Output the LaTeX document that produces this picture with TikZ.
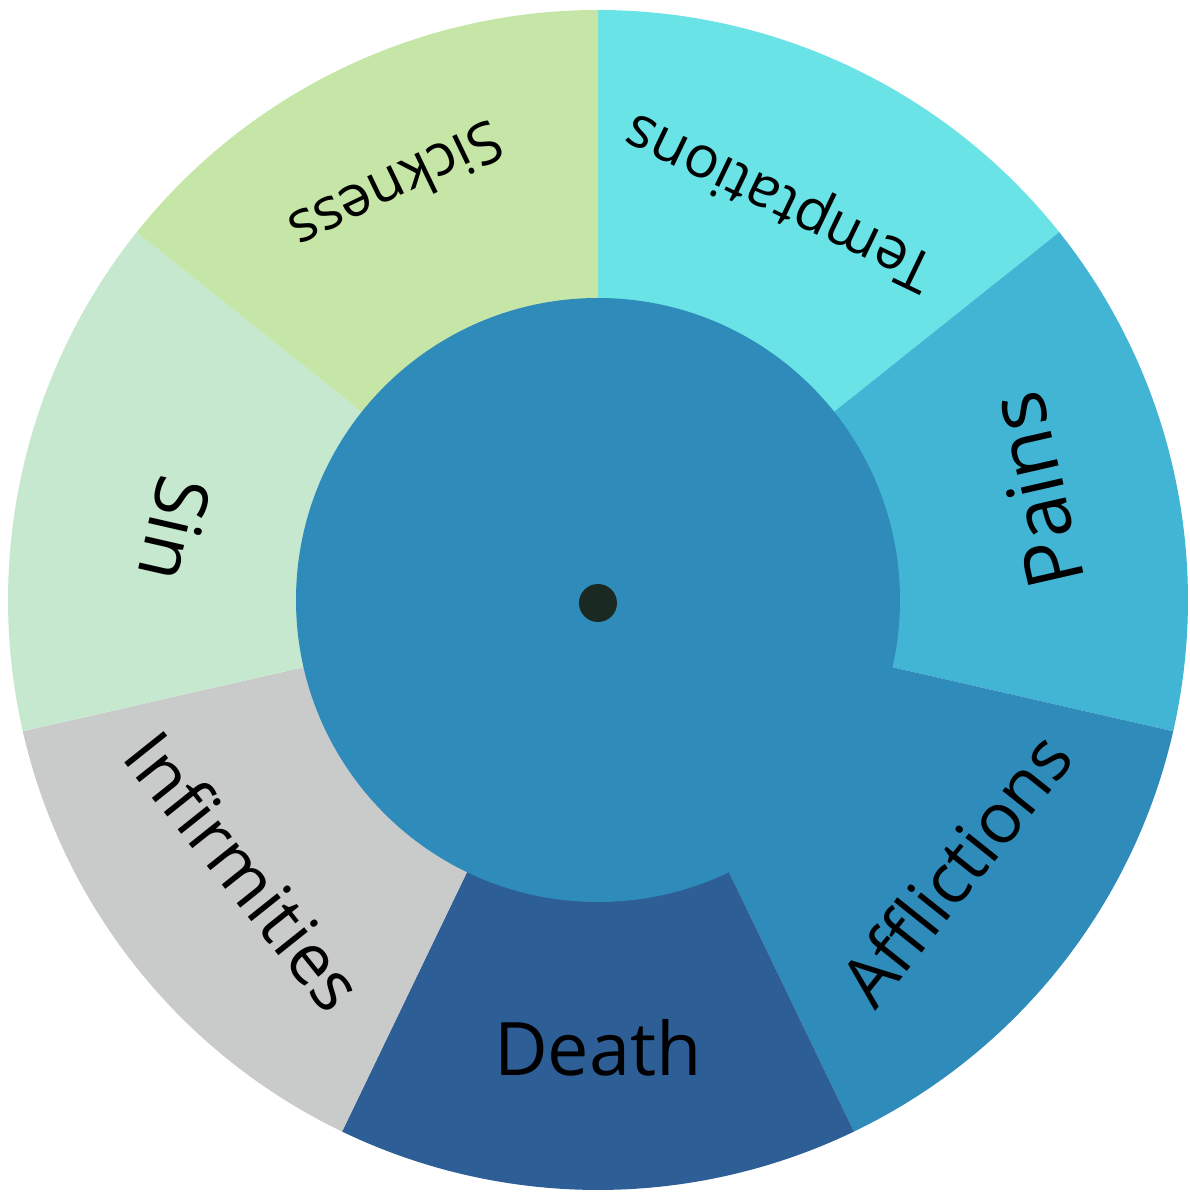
\documentclass[tikz,border=0pt]{standalone}
\usepackage{fontspec}
\setmainfont{Open Sans}
\definecolor{temptcol}{RGB}{105,227,230}
\definecolor{paincol}{RGB}{66,181,213}
\definecolor{afflcol}{RGB}{46,139,186}
\definecolor{deathcol}{RGB}{46,94,150}
\definecolor{infirmcol}{RGB}{201,202,202}
\definecolor{sincol}{RGB}{198,232,207}
\definecolor{sickcol}{RGB}{197,230,166}
\definecolor{hubcol}{RGB}{26,42,34}
\begin{document}
\begin{tikzpicture}[
    word/.style={inner sep=0pt, text=black, font=\fontsize{21}{25}\selectfont},
    smallword/.style={word, font=\fontsize{16.5}{20}\selectfont},
    longword/.style={word, font=\fontsize{20}{24}\selectfont}
  ]
        \useasboundingbox (-5.98,-5.92) rectangle (5.91,6.00);
        % the seven slices, 360/7 degrees each
        \fill[temptcol] (0,0) -- (90:5.9) arc[start angle=90, end angle=38.57, radius=5.9] -- cycle;
        \fill[paincol] (0,0) -- (38.57:5.9) arc[start angle=38.57, end angle=-12.86, radius=5.9] -- cycle;
        \fill[afflcol] (0,0) -- (-12.86:5.9) arc[start angle=-12.86, end angle=-64.29, radius=5.9] -- cycle;
        \fill[deathcol] (0,0) -- (-64.29:5.9) arc[start angle=-64.29, end angle=-115.71, radius=5.9] -- cycle;
        \fill[infirmcol] (0,0) -- (-115.71:5.9) arc[start angle=-115.71, end angle=-167.14, radius=5.9] -- cycle;
        \fill[sincol] (0,0) -- (192.86:5.9) arc[start angle=192.86, end angle=141.43, radius=5.9] -- cycle;
        \fill[sickcol] (0,0) -- (141.43:5.9) arc[start angle=141.43, end angle=90, radius=5.9] -- cycle;

        % middle disc and hub
        \fill[afflcol] (0,0) circle (3.02cm);
        \fill[hubcol] (0,-0.03) circle (0.19cm);

        % labels
        \node[smallword, rotate=154.3] (tempt) at (65.5:4.41) {Temptations};
        \node[word, font=\fontsize{22.5}{27}\selectfont, rotate=102.9] (pains) at (14:4.51) {Pains};
        \node[longword, rotate=51.4] (affl) at (-37:4.47) {Afflictions};
        \node[word] (death) at (-90:4.48) {Death};
        \node[longword, rotate=-51.4] (infirm) at (-142.5:4.45) {Infirmities};
        \node[word, rotate=-102.9] (sin) at (170.5:4.29) {Sin};
        \node[smallword, rotate=205.7] (sick) at (116:4.59) {Sickness};
\end{tikzpicture}
\end{document}
